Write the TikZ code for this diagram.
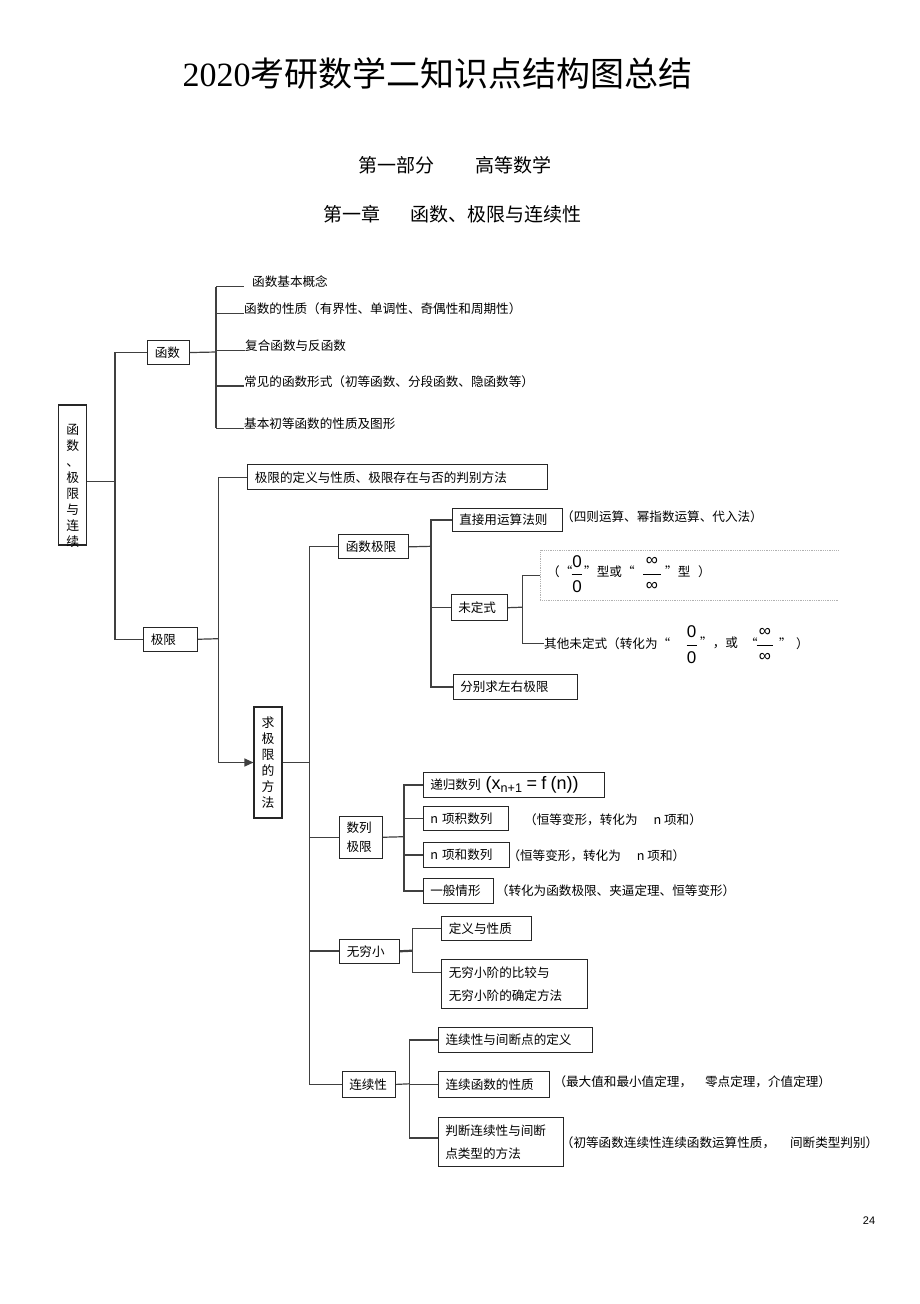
\documentclass[tikz,border=0pt]{standalone}
\usepackage{fontspec}
\setmainfont{Liberation Serif}
\newfontfamily\cjk{Noto Sans CJK SC}
\newfontfamily\sffnt{Liberation Sans}
\usetikzlibrary{arrows.meta}
\newcommand\cjks{\cjk\fontsize{12.6}{16}\selectfont}

\begin{document}
\begin{tikzpicture}[x=1pt, y=-1pt,
    link/.style={draw=black!75, line width=1.2pt},
    boldlink/.style={draw=black!75, line width=2.2pt},
    box/.style={draw=black!85, line width=1.1pt, anchor=north west, inner xsep=7pt, inner ysep=0pt, align=left, font=\cjks},
    vbox/.style={draw=black!85, line width=1.1pt, inner sep=0pt, minimum width=28pt, align=center, font=\cjk\fontsize{12.8}{16}\selectfont},
    item/.style={inner sep=0pt, anchor=base west, font=\cjks},
    note/.style={inner sep=0pt, anchor=west, font=\cjks},
    digit/.style={inner sep=0pt, font=\sffnt\fontsize{17}{17}\selectfont},
    fracbar/.style={draw=black, line width=0.7pt}]
    \useasboundingbox[fill=white] (0,0) rectangle (920,1304);

    \node[font=\cjk\fontsize{34}{34}\selectfont, inner sep=0pt] (title) at (437.5,73) {{\rmfamily 2020}考研数学二知识点结构图总结};
    \node[font=\cjk\fontsize{19}{19}\selectfont, inner sep=0pt] (part) at (455,165) {第一部分\hspace{42pt}高等数学};
    \node[font=\cjk\fontsize{19}{19}\selectfont, inner sep=0pt] (chapter) at (452.5,214) {第一章\hspace{30pt}函数、极限与连续性};
    \node[font=\sffnt\fontsize{11}{11}\selectfont, inner sep=0pt] (pageno) at (869,1221) {24};

    % root and first level
    \node[vbox, minimum height=140pt] (root) at (72.7,475) {};
    \node[vbox, draw=none] (roottext) at (72.7,486) {函\\数\\、\\极\\限\\与\\连\\续};
    \node[box, text width=27.4pt, minimum height=24pt] (fx) at (147.3,340) {函数};
    \node[box, text width=39.7pt, minimum height=24pt] (lim) at (143.3,626.7) {极限};

    \node[item, inner xsep=8pt] (i1) at (244,286.7) {函数基本概念};
    \node[item] (i2) at (244,313.3) {函数的性质（有界性、单调性、奇偶性和周期性）};
    \node[item] (i3) at (245,350.7) {复合函数与反函数};
    \node[item] (i4) at (244,386) {常见的函数形式（初等函数、分段函数、隐函数等）};
    \node[item] (i5) at (244,428.3) {基本初等函数的性质及图形};

    \node[box, text width=285.4pt, minimum height=24.7pt] (limdef) at (247.3,464.3) {极限的定义与性质、极限存在与否的判别方法};
    \node[vbox, minimum height=111pt] (method) at (268,762.5) {求\\极\\限\\的\\方\\法};

    % function limits
    \node[box, text width=55.4pt, minimum height=24pt] (fxlim) at (338.3,534.3) {函数极限};
    \node[box, text width=96.6pt, minimum height=23.3pt] (direct) at (451.7,507.7) {直接用运算法则};
    \node[note] (directnote) at (561,516.7) {（四则运算、幂指数运算、代入法）};
    \node[box, text width=42pt, minimum height=25.7pt] (undet) at (450.7,594.3) {未定式};
    \node[box, text width=110.6pt, minimum height=25pt] (sides) at (452.7,674) {分别求左右极限};

    \node[minimum width=298pt, minimum height=50pt, inner sep=0pt, anchor=north west] (ratio) at (540,550) {};
    \draw[draw=black!30, densely dotted, line width=0.8pt] (ratio.north east) -- (ratio.north west) -- (ratio.south west) -- (ratio.south east);
    \node[note] (qa1) at (547,571.3) {（“};
    \node[note] (qa2) at (584,571.3) {”型或“};
    \node[note] (qa3) at (665,571.3) {”型};
    \node[note] (qa4) at (698,571.3) {）};

    \node[note] (other) at (544,643.3) {其他未定式（转化为“};
    \node[note] (ob1) at (700,643.3) {”，或};
    \node[note] (ob2) at (745,643.3) {“};
    \node[note] (ob3) at (779,643.3) {”};
    \node[note] (ob4) at (796,643.3) {）};

    \foreach \f/\x/\y/\w/\s in {fa/577/574.3/10.6/0, fb/652/574.3/17.4/∞, fc/691.7/645/10/0, fd/765/645/16.6/∞}
    {
      \node[digit] (\f num) at (\x,\y-13) {\s};
      \draw[fracbar] (\x-\w/2,\y) -- (\x+\w/2,\y);
      \node[digit] (\f den) at (\x,\y+12.5) {\s};
    };

    % sequence limits
    \node[box, text width=28.7pt, minimum height=42pt, font=\cjk\fontsize{12.6}{18.7}\selectfont] (seqlim) at (339,815.7) {数列\\极限};
    \node[box, text width=167.6pt, minimum height=24.7pt] (recur) at (422.7,772) {递归数列\hspace{5pt}{\sffnt\fontsize{18}{18}\selectfont(x\textsubscript{n+1} = f (n))}};
    \node[box, text width=71.6pt, minimum height=24pt] (prod) at (422.7,806) {n 项积数列};
    \node[note] (prodnote) at (524,819.3) {（恒等变形，转化为\hspace{16pt}n 项和）};
    \node[box, text width=72.6pt, minimum height=24.4pt] (sum) at (422.7,842.3) {n 项和数列};
    \node[note] (sumnote) at (507.3,855.5) {（恒等变形，转化为\hspace{16pt}n 项和）};
    \node[box, text width=56.6pt, minimum height=24.4pt] (gen) at (422.7,878.3) {一般情形};
    \node[note] (gennote) at (495.7,891) {（转化为函数极限、夹逼定理、恒等变形）};

    % infinitesimals
    \node[box, text width=45.7pt, minimum height=24pt] (inf) at (339.3,938.7) {无穷小};
    \node[box, text width=75.7pt, minimum height=24.3pt] (infdef) at (441.3,915.7) {定义与性质};
    \node[box, text width=131.4pt, minimum height=49pt, font=\cjk\fontsize{12.6}{23.5}\selectfont] (infcmp) at (441.3,959.3) {无穷小阶的比较与\\无穷小阶的确定方法};

    % continuity
    \node[box, text width=39.3pt, minimum height=25.7pt] (cont) at (341.7,1071) {连续性};
    \node[box, text width=139.7pt, minimum height=25.3pt] (contdef) at (438,1026.7) {连续性与间断点的定义};
    \node[box, text width=97pt, minimum height=26pt] (contprop) at (438,1070.7) {连续函数的性质};
    \node[note] (propnote) at (553.3,1082) {（最大值和最小值定理，\hspace{13pt}零点定理，介值定理）};
    \node[box, text width=111.6pt, minimum height=49pt, font=\cjk\fontsize{12.6}{23.5}\selectfont] (contjudge) at (437.7,1117) {判断连续性与间断\\点类型的方法};
    \node[note] (judgenote) at (560.7,1142.7) {（初等函数连续性连续函数运算性质，\hspace{15pt}间断类型判别）};

    % connectors
    \coordinate (ba) at (115,481.7);
    \draw[link] (root.east |- ba) -- (ba);
    \draw[link] (fx.west) -| (ba) |- (lim.west);

    \coordinate (bb) at (216,352);
    \draw[link] (fx.east) -- (bb);
    \draw[link] (bb |- i1.base west) -- (bb |- i5.base west);
    \foreach \i in {1,...,5}
      \draw[link] (bb |- i\i.base west) -- (i\i.base west);

    \coordinate (bc) at (218.3,638.7);
    \draw[link] (lim.east) -- (bc);
    \draw[link, -{Triangle[length=9pt,width=8pt]}] (limdef.west) -| (bc) |- (method.west);

    \coordinate (bd) at (309.5,762.5);
    \draw[link] (method.east) -- (bd);
    \draw[link] (fxlim.west) -| (bd) |- (cont.west);
    \draw[link] (bd |- seqlim.west) -- (seqlim.west);
    \draw[boldlink] (bd |- inf.west) -- (inf.west);

    \coordinate (be) at (431,546.3);
    \draw[link] (fxlim.east) -- (be);
    \draw[link] (direct.west) -| (be) |- (sides.west);
    \draw[link] (be |- undet.west) -- (undet.west);

    \coordinate (bf) at (522.3,607.2);
    \draw[link] (undet.east) -- (bf);
    \draw[link] (ratio.west) -| (bf) |- (other.west);

    \coordinate (bg) at (404,836.7);
    \draw[link] (seqlim.east) -- (bg);
    \draw[link] (recur.west) -| (bg) |- (gen.west);
    \draw[link] (bg |- prod.west) -- (prod.west);
    \draw[link] (bg |- sum.west) -- (sum.west);

    \coordinate (bh) at (412.3,950.7);
    \draw[boldlink] (inf.east) -- (bh);
    \draw[link] (infdef.west) -| (bh) |- ([yshift=12pt]infcmp.west);

    \coordinate (bi) at (409.3,1083.8);
    \draw[link] (cont.east) -- (bi);
    \draw[link] (contdef.west) -| (bi) |- ([yshift=4pt]contjudge.west);
    \draw[link] (bi |- contprop.west) -- (contprop.west);
\end{tikzpicture}
\end{document}
